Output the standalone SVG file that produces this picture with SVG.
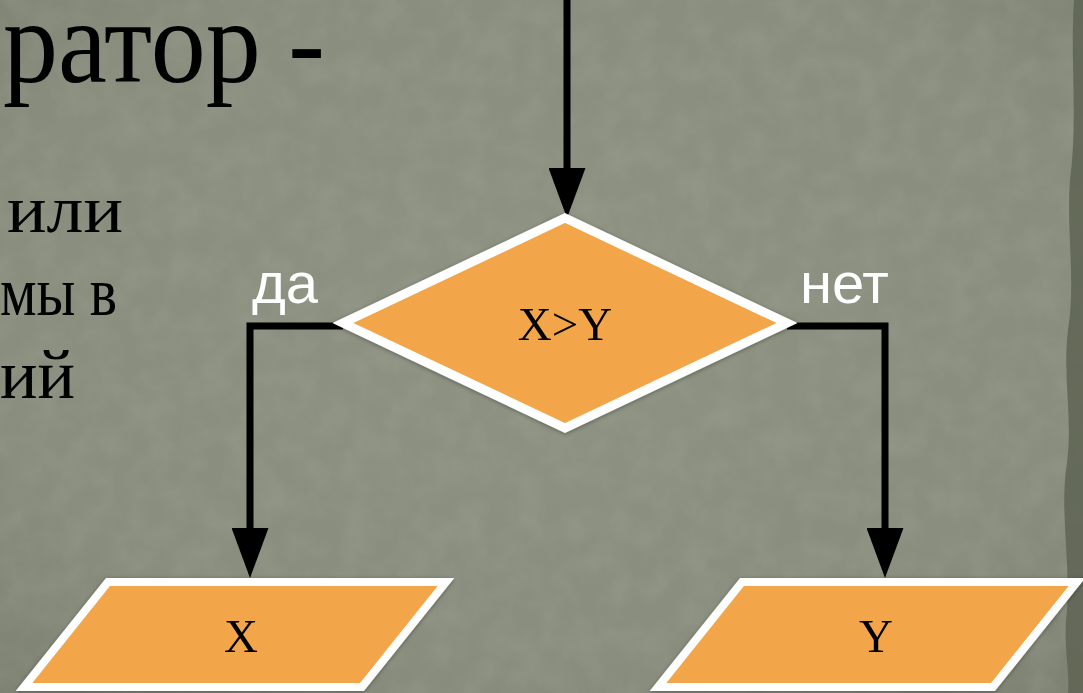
<svg xmlns="http://www.w3.org/2000/svg" width="1083" height="693" viewBox="0 0 1083 693">
  <style>
    .bgtext { font-family: "Liberation Serif", "Times New Roman", serif; fill: #000000; }
    .shape { fill: #F2A54A; stroke: #FFFFFF; stroke-linejoin: miter; }
    .label { font-family: "Liberation Serif", "Times New Roman", serif; font-size: 47px; fill: #000000; text-anchor: middle; }
    .branch { font-family: "Liberation Sans", Arial, sans-serif; font-size: 58px; fill: #FFFFFF; }
    .conn { fill: none; stroke: #000000; stroke-width: 7; stroke-linejoin: miter; marker-end: url(#arrow); }
  </style>
  <defs>
    <radialGradient id="bg" cx="50%" cy="45%" r="75%">
      <stop offset="0" stop-color="#8D9282"/>
      <stop offset="0.7" stop-color="#888D7D"/>
      <stop offset="1" stop-color="#7C8172"/>
    </radialGradient>
    <filter id="grain" x="0" y="0" width="100%" height="100%">
      <feTurbulence type="fractalNoise" baseFrequency="0.035" numOctaves="3" seed="7" result="n"/>
      <feColorMatrix in="n" type="matrix" values="0 0 0 0 0.45  0 0 0 0 0.47  0 0 0 0 0.40  0 0 0 0.9 -0.3"/>
    </filter>
    <filter id="shadow" x="-10%" y="-10%" width="120%" height="120%">
      <feDropShadow dx="0" dy="1" stdDeviation="2" flood-color="#000000" flood-opacity="0.35"/>
    </filter>
    <marker id="arrow" markerUnits="userSpaceOnUse" viewBox="0 0 50 37" refX="0" refY="18.5" markerWidth="50" markerHeight="37" orient="auto">
      <path d="M0,0 L50,18.5 L0,37 Z" fill="#000000"/>
    </marker>
  </defs>

  <rect x="0" y="0" width="1083" height="693" fill="url(#bg)"/>
  <rect x="0" y="0" width="1083" height="693" filter="url(#grain)" opacity="0.35"/>
  <path d="M1083,0 L1074,0 C1070,60 1078,120 1070,180 C1066,230 1076,280 1068,330 C1062,380 1074,420 1066,470 C1060,520 1072,570 1066,620 C1064,650 1070,675 1068,693 L1083,693 Z" fill="#5E6452" opacity="0.85"/>

  <g id="background-text">
    <text class="bgtext" x="3" y="82" font-size="118" textLength="322" lengthAdjust="spacingAndGlyphs">ратор -</text>
    <text class="bgtext" x="7" y="232" font-size="68" textLength="116" lengthAdjust="spacingAndGlyphs">или</text>
    <text class="bgtext" x="0" y="315" font-size="69" textLength="117" lengthAdjust="spacingAndGlyphs">мы в</text>
    <text class="bgtext" x="0" y="398" font-size="69" textLength="75" lengthAdjust="spacingAndGlyphs">ий</text>
  </g>

  <g id="connectors">
    <path class="conn" d="M567,-5 V168"/>
    <path class="conn" d="M343,326 H250 V528"/>
    <path class="conn" d="M787,326 H885 V528"/>
  </g>

  <g id="labels">
    <text class="branch" x="252" y="303">да</text>
    <text class="branch" x="800" y="303">нет</text>
  </g>

  <g id="decision" filter="url(#shadow)">
    <polygon class="shape" stroke-width="9" points="565,218 787,323 565,428 343,323"/>
    <text class="label" x="565" y="340">X&gt;Y</text>
  </g>

  <g id="output-x" filter="url(#shadow)">
    <polygon class="shape" stroke-width="8" points="108,582 446,582 362,687 24,687"/>
    <text class="label" x="241" y="652">X</text>
  </g>

  <g id="output-y" filter="url(#shadow)">
    <polygon class="shape" stroke-width="8" points="742,582 1077,582 993,687 658,687"/>
    <text class="label" x="876" y="652">Y</text>
  </g>
</svg>
